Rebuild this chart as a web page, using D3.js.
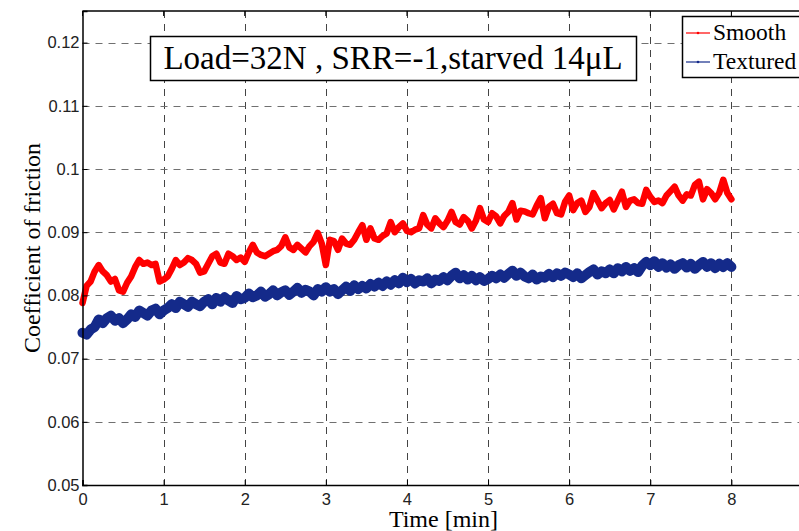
<!DOCTYPE html>
<html>
<head>
<meta charset="utf-8">
<script src="https://cdn.jsdelivr.net/npm/d3@7"></script>
<style>
  html, body { margin: 0; padding: 0; background: #fff; overflow: hidden; }
  svg { display: block; }
</style>
</head>
<body>
<div id="chart"></div>
<script>
// sampled every 0.05 min, 0..8 min
const T_STEP = 0.05
const SMOOTH = [
  0.0788, 0.0815, 0.0822, 0.0838, 0.0848, 0.0838, 0.0832, 0.0822, 0.0826, 0.0808,
  0.0806, 0.0820, 0.0830, 0.0845, 0.0856, 0.0850, 0.0852, 0.0848, 0.0850, 0.0822,
  0.0825, 0.0830, 0.0842, 0.0856, 0.0848, 0.0852, 0.0859, 0.0856, 0.0850, 0.0836,
  0.0838, 0.0850, 0.0862, 0.0866, 0.0852, 0.0850, 0.0866, 0.0862, 0.0856, 0.0860,
  0.0853, 0.0868, 0.0880, 0.0868, 0.0864, 0.0862, 0.0866, 0.0870, 0.0872, 0.0878,
  0.0892, 0.0876, 0.0872, 0.0880, 0.0874, 0.0868, 0.0878, 0.0885, 0.0899, 0.0882,
  0.0848, 0.0888, 0.0886, 0.0872, 0.0890, 0.0882, 0.0880, 0.0888, 0.0900, 0.0911,
  0.0888, 0.0906, 0.0890, 0.0888, 0.0894, 0.0898, 0.0916, 0.0900, 0.0908, 0.0914,
  0.0902, 0.0900, 0.0904, 0.0906, 0.0927, 0.0912, 0.0906, 0.0922, 0.0914, 0.0908,
  0.0918, 0.0932, 0.0916, 0.0912, 0.0924, 0.0918, 0.0906, 0.0918, 0.0938, 0.0920,
  0.0916, 0.0930, 0.0925, 0.0914, 0.0926, 0.0932, 0.0946, 0.0920, 0.0934, 0.0933,
  0.0930, 0.0928, 0.0942, 0.0954, 0.0922, 0.0940, 0.0945, 0.0930, 0.0928, 0.0948,
  0.0958, 0.0935, 0.0946, 0.0950, 0.0932, 0.0940, 0.0962, 0.0950, 0.0938, 0.0946,
  0.0951, 0.0936, 0.0950, 0.0964, 0.0940, 0.0950, 0.0952, 0.0946, 0.0945, 0.0967,
  0.0956, 0.0948, 0.0950, 0.0946, 0.0958, 0.0965, 0.0972, 0.0958, 0.0950, 0.0960,
  0.0958, 0.0975, 0.0980, 0.0952, 0.0968, 0.0962, 0.0952, 0.0962, 0.0983, 0.0962,
  0.0952,
]
const TEXTURED = [
  0.0741, 0.0738, 0.0746, 0.0750, 0.0762, 0.0756, 0.0764, 0.0768, 0.0760, 0.0764,
  0.0756, 0.0762, 0.0770, 0.0766, 0.0776, 0.0772, 0.0768, 0.0776, 0.0779, 0.0770,
  0.0776, 0.0780, 0.0786, 0.0780, 0.0790, 0.0786, 0.0782, 0.0790, 0.0786, 0.0783,
  0.0790, 0.0794, 0.0786, 0.0796, 0.0790, 0.0797, 0.0792, 0.0788, 0.0799, 0.0794,
  0.0796, 0.0803, 0.0797, 0.0800, 0.0806, 0.0798, 0.0802, 0.0808, 0.0800, 0.0805,
  0.0808, 0.0801, 0.0806, 0.0812, 0.0804, 0.0809, 0.0806, 0.0800, 0.0810, 0.0806,
  0.0813, 0.0806, 0.0810, 0.0802, 0.0808, 0.0814, 0.0807, 0.0816, 0.0810, 0.0815,
  0.0811, 0.0818, 0.0814, 0.0820, 0.0815, 0.0822, 0.0817, 0.0824, 0.0819, 0.0828,
  0.0821, 0.0826, 0.0819, 0.0824, 0.0822, 0.0827, 0.0819, 0.0825, 0.0823, 0.0829,
  0.0824, 0.0831, 0.0836, 0.0827, 0.0832, 0.0825, 0.0831, 0.0824, 0.0829, 0.0823,
  0.0826, 0.0831, 0.0827, 0.0833, 0.0828, 0.0834, 0.0839, 0.0831, 0.0836, 0.0830,
  0.0827, 0.0833, 0.0825, 0.0830, 0.0828, 0.0834, 0.0829, 0.0835, 0.0831, 0.0836,
  0.0833, 0.0829, 0.0835, 0.0827, 0.0832, 0.0837, 0.0841, 0.0833, 0.0838, 0.0835,
  0.0841, 0.0835, 0.0843, 0.0838, 0.0845, 0.0839, 0.0843, 0.0837, 0.0847, 0.0853,
  0.0848, 0.0854, 0.0845, 0.0851, 0.0844, 0.0849, 0.0842, 0.0848, 0.0851, 0.0844,
  0.0850, 0.0842, 0.0848, 0.0853, 0.0845, 0.0851, 0.0843, 0.0850, 0.0845, 0.0851,
  0.0845,
]
const X_TICKS = [0, 1, 2, 3, 4, 5, 6, 7, 8]
const Y_TICKS = [0.05, 0.06, 0.07, 0.08, 0.09, 0.1, 0.11, 0.12]
const SERIES = ['Smooth', 'Textured']
const COLORS = { Smooth: '#ff0000', Textured: '#142a8a' }
const TITLE = 'Load=32N , SRR=-1,starved 14\u03bcL'

const W = 799, H = 531
const PLOT = { left: 82.5, top: 11, bottom: 485, right: 812.5 }
const SERIF = '"Liberation Serif", "Times New Roman", serif'
const SANS = '"Liberation Sans", Arial, sans-serif'

const svg = d3.select('#chart').append('svg')
  .attr('width', W).attr('height', H)
  .attr('viewBox', `0 0 ${W} ${H}`)

const x = d3.scaleLinear().domain([0, 9]).range([PLOT.left, PLOT.right])
const y = d3.scaleLinear().domain([0.05, 0.125]).range([PLOT.bottom, PLOT.top])

// grid
const grid = svg.append('g').attr('class', 'grid')
  .attr('stroke', '#444').attr('stroke-width', 1).attr('stroke-dasharray', '7,6')
grid.selectAll('line.gx').data(X_TICKS.slice(1)).join('line')
  .attr('class', 'gx')
  .attr('x1', d => Math.round(x(d)) + 0.5).attr('x2', d => Math.round(x(d)) + 0.5)
  .attr('y1', PLOT.top).attr('y2', PLOT.bottom)
grid.selectAll('line.gy').data(Y_TICKS.slice(1)).join('line')
  .attr('class', 'gy')
  .attr('y1', d => Math.round(y(d)) + 0.5).attr('y2', d => Math.round(y(d)) + 0.5)
  .attr('x1', PLOT.left).attr('x2', PLOT.right)
  .attr('stroke', '#707070')

// data
const line = d3.line()
  .x((_, i) => x(i * T_STEP))
  .y(d => y(d))
svg.append('path').datum(TEXTURED)
  .attr('fill', 'none').attr('stroke', COLORS.Textured)
  .attr('stroke-width', 10).attr('stroke-linejoin', 'round').attr('stroke-linecap', 'round')
  .attr('d', line)
svg.append('path').datum(SMOOTH)
  .attr('fill', 'none').attr('stroke', COLORS.Smooth)
  .attr('stroke-width', 6.5).attr('stroke-linejoin', 'round').attr('stroke-linecap', 'round')
  .attr('d', line)

// axes
const xAxis = d3.axisBottom(x).tickValues(X_TICKS).tickSize(-5).tickPadding(8).tickFormat(d3.format('d'))
const yAxis = d3.axisLeft(y).tickValues(Y_TICKS).tickSize(-5).tickPadding(3).tickFormat(d => String(+d.toFixed(2)))

svg.append('g')
  .attr('transform', `translate(0,${PLOT.bottom})`)
  .call(xAxis)
  .call(g => g.select('.domain').attr('stroke', '#000').attr('stroke-width', 1.5))
  .call(g => g.selectAll('line').attr('stroke', '#000'))
  .call(g => g.selectAll('text').attr('fill', '#222').attr('font-size', 16.5).attr('font-family', SANS))

svg.append('g')
  .attr('transform', `translate(${PLOT.left},0)`)
  .call(yAxis)
  .call(g => g.select('.domain').attr('stroke', '#000').attr('stroke-width', 1.5))
  .call(g => g.selectAll('line').attr('stroke', '#000'))
  .call(g => g.selectAll('text').attr('fill', '#222').attr('font-size', 16.5).attr('font-family', SANS))

// top border
svg.append('line')
  .attr('x1', PLOT.left).attr('x2', PLOT.right)
  .attr('y1', PLOT.top).attr('y2', PLOT.top)
  .attr('stroke', '#000').attr('stroke-width', 1.5)
svg.append('g').selectAll('line').data(X_TICKS).join('line')
  .attr('x1', d => x(d)).attr('x2', d => x(d))
  .attr('y1', PLOT.top).attr('y2', PLOT.top + 5)
  .attr('stroke', '#000')

// axis labels
svg.append('text')
  .attr('x', x(4.45)).attr('y', 527)
  .attr('text-anchor', 'middle')
  .attr('font-family', SERIF).attr('font-size', 24)
  .text('Time [min]')
svg.append('text')
  .attr('transform', `translate(40,248) rotate(-90)`)
  .attr('text-anchor', 'middle')
  .attr('font-family', SERIF).attr('font-size', 24)
  .text('Coefficient of friction')

// title box
const tb = svg.append('g')
tb.append('rect')
  .attr('x', 150.5).attr('y', 36.5).attr('width', 486).attr('height', 44)
  .attr('fill', '#fff').attr('stroke', '#000').attr('stroke-width', 1.5)
tb.append('text')
  .attr('x', 393).attr('y', 69)
  .attr('text-anchor', 'middle')
  .attr('font-family', SERIF).attr('font-size', 33)
  .text(TITLE)

// legend
const lg = svg.append('g')
lg.append('rect')
  .attr('x', 682.5).attr('y', 16.5).attr('width', 130).attr('height', 61)
  .attr('fill', '#fff').attr('stroke', '#000').attr('stroke-width', 1.5)
SERIES.forEach((s, i) => {
  const ly = 33 + i * 29
  lg.append('line')
    .attr('x1', 686).attr('x2', 710).attr('y1', ly).attr('y2', ly)
    .attr('stroke', COLORS[s]).attr('stroke-width', 1.2)
  lg.append('circle')
    .attr('cx', 698).attr('cy', ly).attr('r', 1.3).attr('fill', COLORS[s])
  lg.append('text')
    .attr('x', 713).attr('y', ly + 7)
    .attr('font-family', SERIF).attr('font-size', 23.5)
    .text(s)
})
</script>
</body>
</html>
